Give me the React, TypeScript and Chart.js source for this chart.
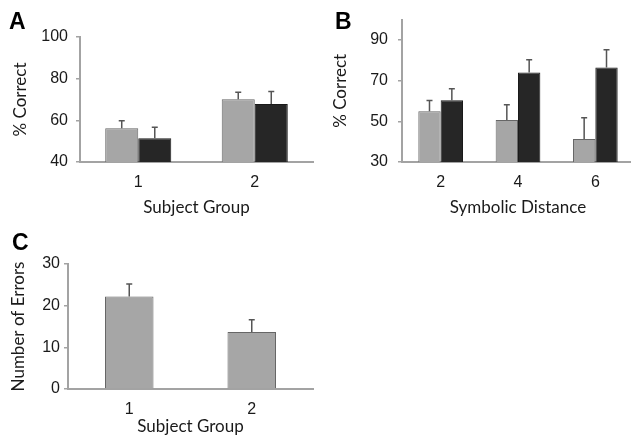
import React, { useEffect, useRef } from "react";
import { Chart, registerables } from "chart.js";

Chart.register(...registerables);

// ---- Panel A ----
const aCategories = ["1", "2"];
const aGray = [56.2, 70.1];
const aGrayErr = [3.6, 3.4];
const aDark = [51.4, 67.8];
const aDarkErr = [5.3, 6.1];
const aTicks = [40, 60, 80, 100];

// ---- Panel B ----
const bCategories = ["2", "4", "6"];
const bGray = [55.0, 50.7, 41.3];
const bGrayErr = [5.2, 7.5, 10.5];
const bDark = [60.3, 74.0, 76.4];
const bDarkErr = [5.7, 6.3, 8.8];
const bTicks = [30, 50, 70, 90];

// ---- Panel C ----
const cCategories = ["1", "2"];
const cErrorsCount = [22.2, 13.7];
const cErrorsErr = [3.0, 2.9];
const cTicks = [0, 10, 20, 30];

const AXIS = "#a3a3a3";
const TEXT = "#1a1a1a";
const GRAY_FILL = "#a6a6a6";
const GRAY_STROKE = "#666666";
const DARK_FILL = "#262626";
const DARK_STROKE = "#1a1a1a";
const TICK_FONT = { family: "'Liberation Sans', Arial, sans-serif", size: 16 };
const TITLE_FONT = { family: "Lato, 'Open Sans', sans-serif", size: 17 };

const errorBarPlugin = {
  id: "errorBars",
  afterDatasetsDraw(chart: any) {
    const ctx = chart.ctx;
    const yScale = chart.scales.y;
    chart.data.datasets.forEach((ds: any, i: number) => {
      const meta = chart.getDatasetMeta(i);
      meta.data.forEach((bar: any, j: number) => {
        const v = ds.data[j];
        const e = ds.errors[j];
        const top = yScale.getPixelForValue(v + e);
        ctx.save();
        ctx.strokeStyle = "#555555";
        ctx.lineWidth = 1.5;
        ctx.beginPath();
        ctx.moveTo(bar.x, bar.y);
        ctx.lineTo(bar.x, top);
        ctx.moveTo(bar.x - 3, top);
        ctx.lineTo(bar.x + 3, top);
        ctx.stroke();
        ctx.restore();
      });
    });
  },
};

type Series = { values: number[]; errors: number[]; fill: string; stroke: string };
type PanelProps = {
  labels: string[];
  series: Series[];
  yTicks: number[];
  yMin: number;
  yMax: number;
  catPct: number;
  padding: { left: number; top: number; right: number; bottom: number };
  yWidth: number;
  xHeight: number;
  xTitle: string;
  yTitle: string;
  xTickPad: number;
  yTickPad: number;
  xTitlePad: number;
  yTitlePad: number;
  left: number;
  top: number;
  width: number;
  height: number;
};

function Panel(p: PanelProps) {
  const ref = useRef<HTMLCanvasElement>(null);
  useEffect(() => {
    if (!ref.current) return;
    const chart = new Chart(ref.current, {
      type: "bar",
      data: {
        labels: p.labels,
        datasets: p.series.map((s) => ({
          data: s.values,
          errors: s.errors,
          backgroundColor: s.fill,
          borderColor: s.stroke,
          borderWidth: 1,
          barPercentage: 1,
          categoryPercentage: p.catPct,
        })) as any,
      },
      options: {
        responsive: false,
        animation: false,
        layout: { padding: p.padding },
        plugins: { legend: { display: false }, tooltip: { enabled: false } },
        scales: {
          x: {
            grid: { display: false, drawTicks: false },
            border: { display: true, color: AXIS, width: 2 },
            ticks: { padding: p.xTickPad, font: TICK_FONT, color: TEXT },
            title: {
              display: true,
              text: p.xTitle,
              font: TITLE_FONT,
              color: TEXT,
              padding: { top: 0, bottom: p.xTitlePad },
            },
            afterFit: (s: any) => {
              s.height = p.xHeight;
            },
          },
          y: {
            min: p.yMin,
            max: p.yMax,
            afterBuildTicks: (s: any) => {
              s.ticks = p.yTicks.map((v) => ({ value: v }));
            },
            grid: {
              drawOnChartArea: false,
              drawTicks: true,
              tickLength: 4,
              color: AXIS,
              lineWidth: 1.5,
            },
            border: { display: true, color: AXIS, width: 2 },
            ticks: { padding: p.yTickPad, font: TICK_FONT, color: TEXT },
            title: {
              display: true,
              text: p.yTitle,
              font: TITLE_FONT,
              color: TEXT,
              padding: { top: p.yTitlePad, bottom: 0 },
            },
            afterFit: (s: any) => {
              s.width = p.yWidth;
            },
          },
        },
      } as any,
      plugins: [errorBarPlugin],
    });
    return () => chart.destroy();
  }, []);
  return (
    <canvas
      ref={ref}
      width={p.width}
      height={p.height}
      style={{ position: "absolute", left: p.left, top: p.top, width: p.width, height: p.height }}
    />
  );
}

const letterStyle = (left: number, top: number): React.CSSProperties => ({
  position: "absolute",
  left,
  top,
  fontFamily: "'Liberation Sans', Arial, sans-serif",
  fontWeight: "bold",
  fontSize: 23,
  lineHeight: 1,
  color: "#000",
});

export default function App() {
  return (
    <div
      style={{
        position: "fixed",
        left: 0,
        top: 0,
        width: 631,
        height: 442,
        overflow: "hidden",
        background: "#fff",
      }}
    >
      <Panel
        labels={aCategories}
        series={[
          { values: aGray, errors: aGrayErr, fill: GRAY_FILL, stroke: GRAY_STROKE },
          { values: aDark, errors: aDarkErr, fill: DARK_FILL, stroke: DARK_STROKE },
        ]}
        yTicks={aTicks}
        yMin={40}
        yMax={100}
        catPct={0.567}
        padding={{ left: 0, top: 37, right: 7, bottom: 0 }}
        yWidth={80}
        xHeight={58}
        xTitle="Subject Group"
        yTitle="% Correct"
        xTickPad={11}
        yTickPad={8}
        xTitlePad={2}
        yTitlePad={10}
        left={0}
        top={0}
        width={320}
        height={220}
      />
      <Panel
        labels={bCategories}
        series={[
          { values: bGray, errors: bGrayErr, fill: GRAY_FILL, stroke: GRAY_STROKE },
          { values: bDark, errors: bDarkErr, fill: DARK_FILL, stroke: DARK_STROKE },
        ]}
        yTicks={bTicks}
        yMin={30}
        yMax={100}
        catPct={0.578}
        padding={{ left: 0, top: 18, right: 0, bottom: 0 }}
        yWidth={80}
        xHeight={58}
        xTitle="Symbolic Distance"
        yTitle="% Correct"
        xTickPad={11}
        yTickPad={10}
        xTitlePad={2}
        yTitlePad={8}
        left={322}
        top={0}
        width={312}
        height={220}
      />
      <Panel
        labels={cCategories}
        series={[{ values: cErrorsCount, errors: cErrorsErr, fill: GRAY_FILL, stroke: GRAY_STROKE }]}
        yTicks={cTicks}
        yMin={0}
        yMax={30}
        catPct={0.396}
        padding={{ left: 0, top: 44, right: 7, bottom: 0 }}
        yWidth={68}
        xHeight={53}
        xTitle="Subject Group"
        yTitle="Number of Errors"
        xTickPad={11}
        yTickPad={4}
        xTitlePad={5}
        yTitlePad={8}
        left={0}
        top={220}
        width={320}
        height={222}
      />
      <div style={letterStyle(9, 10)}>A</div>
      <div style={letterStyle(335, 10)}>B</div>
      <div style={letterStyle(12, 231)}>C</div>
    </div>
  );
}
